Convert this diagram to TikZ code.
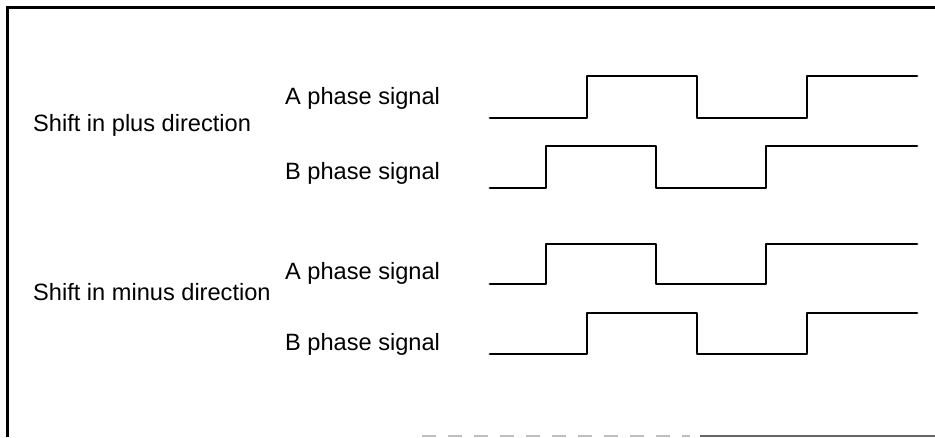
\documentclass[tikz,border=0pt]{standalone}
\usepackage{fontspec}
\setmainfont{Liberation Sans}
\begin{document}
\begin{tikzpicture}[x=1pt,y=-1pt,
  lbl/.style={anchor=base west,inner sep=0pt,font=\fontsize{23.6}{27}\selectfont},
  wave/.style={line width=2.8pt,line join=round,line cap=round},
  frame/.style={line width=2.6pt},
  scanline/.style={line width=2pt,draw=black!60}]
\useasboundingbox (0,0) rectangle (935,437);
% frame
\coordinate (tl) at (7.5,7.5);
\coordinate (tr) at (935,7.5);
\coordinate (bl) at (7.5,437);
\draw[frame] (bl) -- (tl) -- (tr);
\coordinate (b1) at (700,436);
\coordinate (b2) at (935,436);
\draw[scanline] (b1) -- (b2);
\coordinate (b3) at (422,436);
\coordinate (b4) at (690,436);
\draw[scanline,draw=black!25,dash pattern=on 14pt off 12pt] (b3) -- (b4);
% labels
\node[lbl] (plus) at (33,131) {Shift in plus direction};
\node[lbl] (apl) at (285,104) {A phase signal};
\node[lbl] (bpl) at (285,179) {B phase signal};
\node[lbl] (minus) at (33,300) {Shift in minus direction};
\node[lbl] (ami) at (285,279) {A phase signal};
\node[lbl] (bmi) at (285,350) {B phase signal};
% waveforms
\draw[wave] (490,118) -- (587,118) -- (587,76) -- (697,76) -- (697,118) -- (807,118) -- (807,76) -- (917,76);
\draw[wave] (490,188) -- (546,188) -- (546,146) -- (656,146) -- (656,188) -- (766,188) -- (766,146) -- (917,146);
\draw[wave] (490,284) -- (546,284) -- (546,244) -- (656,244) -- (656,284) -- (766,284) -- (766,244) -- (917,244);
\draw[wave] (490,354) -- (587,354) -- (587,313) -- (697,313) -- (697,354) -- (807,354) -- (807,313) -- (917,313);
\end{tikzpicture}
\end{document}
